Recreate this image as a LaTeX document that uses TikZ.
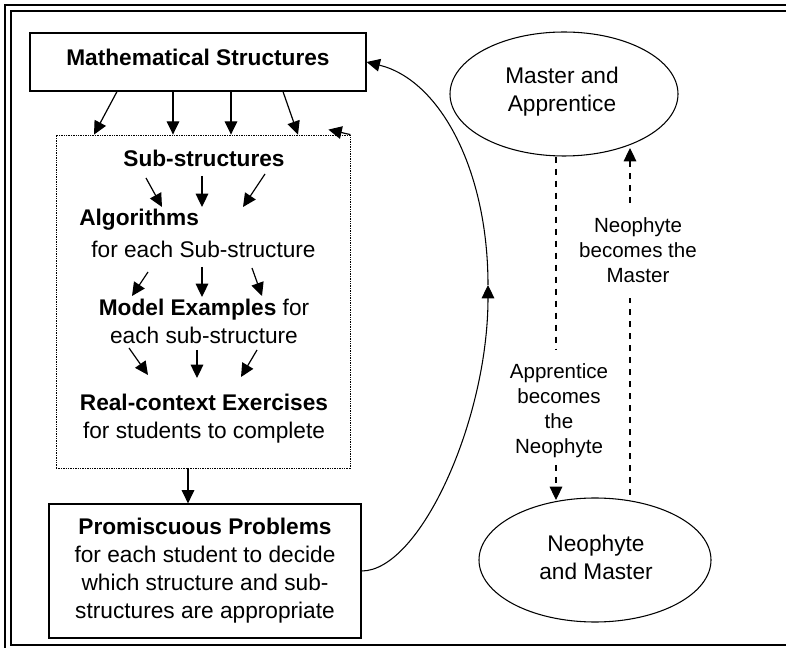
\documentclass[tikz,border=0pt]{standalone}
\usepackage{fontspec}
\setmainfont{Liberation Sans}
\usetikzlibrary{arrows.meta,shapes.geometric}
\begin{document}
\begin{tikzpicture}[x=0.75pt,y=-0.75pt,
  tip/.style={-{Triangle[length=10pt,width=9.5pt]}},
  arr/.style={tip, line width=0.9pt},
  big/.style={font=\fontsize{17}{21}\selectfont},
  bigb/.style={font=\fontsize{17}{21}\selectfont\bfseries},
  small/.style={font=\fontsize{15.4}{18.75}\selectfont},
  box/.style={draw, line width=0.9pt, inner sep=0pt},
  dbox/.style={draw, line width=0.6pt, dash pattern=on 1pt off 0.8pt, inner sep=0pt},
  oval/.style={draw, ellipse, line width=0.8pt, inner sep=0pt},
  dline/.style={line width=0.8pt, dash pattern=on 4.5pt off 4.5pt},
  frame/.style={line width=1.6pt},
]
\clip (0,0) rectangle (786,648);
% frame
\draw[frame] (5,660) -- (5,5) -- (800,5);
\draw[frame] (800,645) -- (11,645) -- (11,11) -- (800,11);

% main boxes
\node[box, minimum width=252pt, minimum height=43.5pt] (ms) at (198,62) {};
\node[bigb] (mst) at ([yshift=3.75pt]ms.center) {Mathematical Structures};
\node[dbox, minimum width=220.5pt, minimum height=249.75pt] (db) at (203,301.5) {};
\node[bigb] (sub) at (204,158) {Sub-structures};
\node[bigb, anchor=west, inner sep=0pt] (alg) at (79,220) {Algorithms};
\node[big] (alg2) at (203.5,249) {for each Sub-structure};
\node[big, align=center] (mod) at (204,321) {\textbf{Model Examples} for\\each sub-structure};
\node[big, align=center] (real) at (204,419) {\textbf{Real-context Exercises}\\for students to complete};
\node[box, big, align=center, minimum width=234pt, minimum height=100.5pt] (pp) at (205,571)
  {\textbf{Promiscuous Problems}\\for each student to decide\\which structure and sub-\\structures are appropriate};

% arrows from Mathematical Structures
\draw[arr] (ms.south -| 117,0) -- (db.north -| 94,0);
\draw[arr] (ms.south -| 173,0) -- (db.north -| 173,0);
\draw[arr] (ms.south -| 231,0) -- (db.north -| 231,0);
\draw[arr] (ms.south -| 283,0) -- (db.north -| 298,0);
\draw[arr] (db.north east) -- +(-22,-5);

% inner arrows
\draw[arr] (146,178) -- (162,207);
\draw[arr] (202,176) -- (202,207);
\draw[arr] (265,174) -- (243,207);
\draw[arr] (148,272) -- (132,296);
\draw[arr] (202,267) -- (202,297);
\draw[arr] (252,268) -- (262,296);
\draw[arr] (129,348) -- (148,375);
\draw[arr] (197,350) -- (197,378);
\draw[arr] (257,350) -- (241,377);

\draw[arr] (db.south -| 188,0) -- (pp.north -| 188,0);

% feedback curve
\coordinate (mid) at (488,285);
\draw[arr, line width=0.8pt] (pp.east) .. controls (420,571) and (488,420) .. (mid);
\draw[arr, line width=0.8pt] (mid) .. controls (488,170) and (440,80) .. (ms.east);

% ellipses
\node[oval, minimum width=171pt, minimum height=93pt] (ma) at (564,94) {};
\node[big, align=center] (mat) at (562,91.5) {Master and\\Apprentice};
\node[oval, minimum width=174pt, minimum height=93pt] (nm) at (595,560) {};
\node[big, align=center] (nmt) at (596,557) {Neophyte\\and Master};

% labels
\node[small, align=center, inner sep=0pt] (l1) at (559,410.5) {Apprentice\\becomes\\the\\Neophyte};
\node[small, align=center, inner sep=0pt] (l2) at (638,250.5) {Neophyte\\becomes the\\Master};
\coordinate (x1) at (556,0);
\coordinate (x2) at (630,0);
\draw[dline] (ma.south -| x1) -- (x1 |- 0,350);
\draw[dline, tip] (x1 |- 0,465) -- (x1 |- 0,500);
\draw[dline] (x2 |- 0,495) -- (x2 |- 0,298);
\draw[dline, tip] (x2 |- 0,203) -- (x2 |- 0,148);
\end{tikzpicture}
\end{document}
